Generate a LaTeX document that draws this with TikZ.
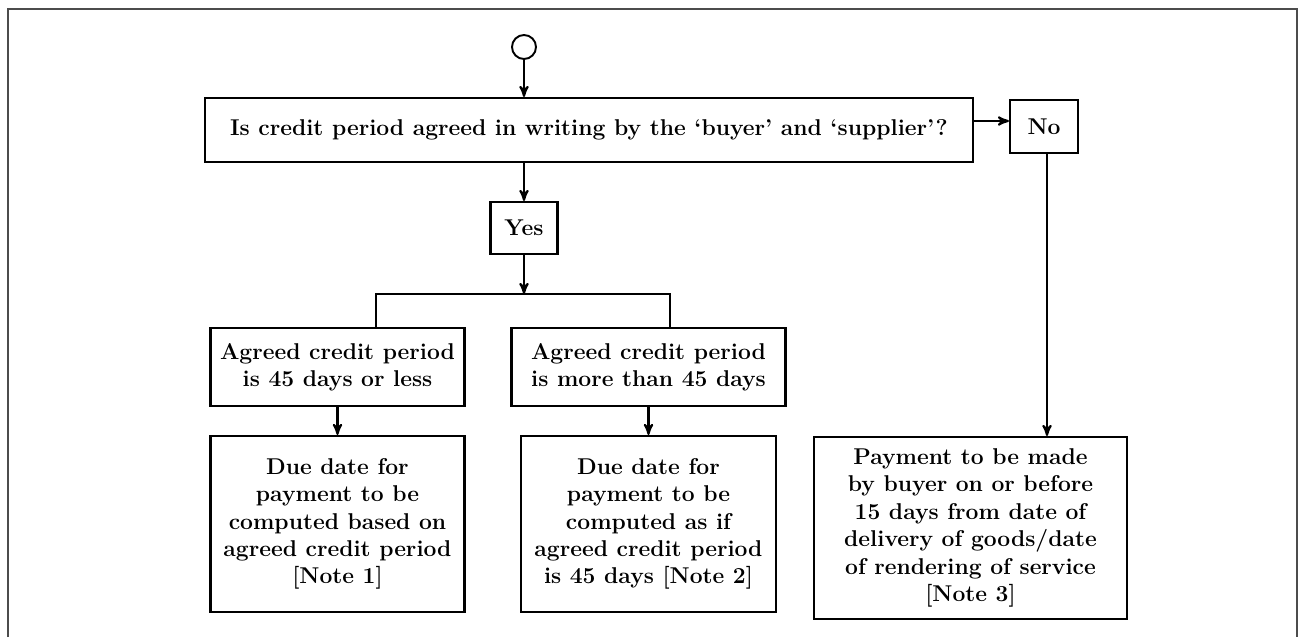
\documentclass[tikz,border=0pt]{standalone}
\usepackage{tikz}
\usetikzlibrary{arrows}
\usetikzlibrary{positioning}

\begin{document}
\begin{tikzpicture}[x=0.2mm,y=-0.2mm,on grid,>=stealth',line width=1.2pt,
		box/.style={rectangle,draw=black,line width=1.2pt,inner sep=2pt,align=center,
			font=\fontsize{13pt}{15.6pt}\selectfont\bfseries},
		start/.style={circle,draw=black,line width=1.1pt,minimum size=4.8mm,inner sep=0pt}]
		\useasboundingbox (0,0) rectangle (1299,637);
		\draw[line width=0.9pt,black!70] (8,637) -- (8,9) -- (1297,9) -- (1297,637);
		
		\node[start]  (start)   at (524,47)            			{};
		\node[box,minimum width=153.6mm,minimum height=12.8mm] (quest) [below right=16.6mm and 13mm of start]
			{Is credit period agreed in writing by the `buyer' and `supplier'?};
		\node[box,minimum width=13.4mm,minimum height=10.4mm] (yes) [below=36.2mm of start] {Yes};
		\node[box,minimum width=13.6mm,minimum height=10.6mm] (no) [right=91mm of quest,yshift=0.7mm] {No};
		\coordinate[below=13.2mm of yes] (bar);
		\coordinate[left=29.6mm of bar]  (barl);
		\coordinate[right=29.2mm of bar] (barr);
		
		\node[box,minimum width=50.8mm,minimum height=15.6mm] (less) [below left=27.8mm and 37.3mm of yes]
			{Agreed credit period\\is 45 days or less};
		\node[box,minimum width=54.8mm,minimum height=15.6mm] (more) [below right=27.8mm and 24.9mm of yes]
			{Agreed credit period\\is more than 45 days};
		\node[box,minimum width=50.8mm,minimum height=35.2mm] (due1) [below=31.4mm of less]
			{Due date for\\payment to be\\computed based on\\agreed credit period\\{[}Note 1{]}};
		\node[box,minimum width=51mm,minimum height=35.2mm] (due2) [below=31.4mm of more]
			{Due date for\\payment to be\\computed as if\\agreed credit period\\is 45 days {[}Note 2{]}};
		\node[box,minimum width=62.6mm,minimum height=36.4mm] (pay) [below=80.3mm of no,xshift=-14.7mm]
			{Payment to be made\\by buyer on or before\\15 days from date of\\delivery of goods/date\\of rendering of service\\{[}Note 3{]}};
		
		\draw[->] (start) -- (start |- quest.north);
		\draw[->] (quest.south -| yes) -- (yes.north);
		\draw[->] (yes) -- (bar);
		\draw (barl |- less.north) -- (barl) -- (barr) -- (barr |- more.north);
		\draw[->] (less) -- (due1);
		\draw[->] (more.south) -- (more.south |- due2.north);
		\draw[->] ([yshift=1.8mm]quest.east) -- ([yshift=1.8mm]quest.east -| no.west);
		\draw[->] ([xshift=0.6mm]no.south) -- ([xshift=0.6mm]no.south |- pay.north);
		\end{tikzpicture}
\end{document}
